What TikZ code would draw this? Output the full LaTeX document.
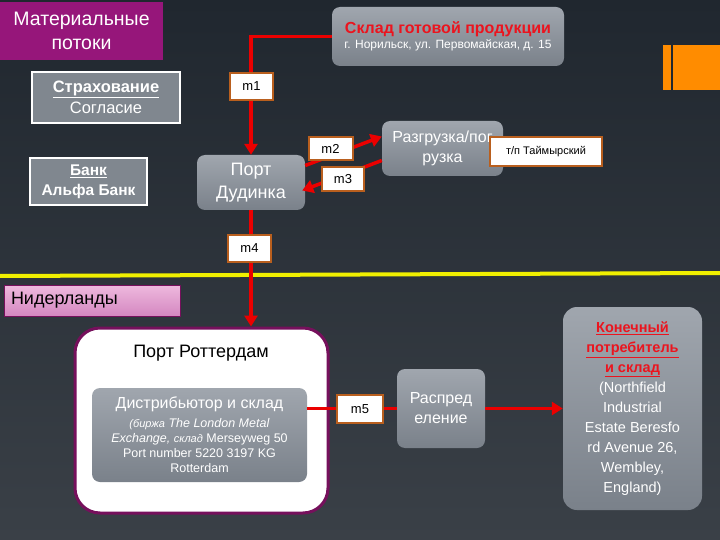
\documentclass[tikz,border=0pt]{standalone}
\usepackage{fontspec}
\setmainfont{Liberation Sans}
\usetikzlibrary{positioning, arrows.meta, calc}
\definecolor{bgtop}{RGB}{32,39,47}
\definecolor{bgbot}{RGB}{58,64,71}
\definecolor{mpurple}{RGB}{150,22,122}
\definecolor{dpurple}{RGB}{118,16,92}
\definecolor{gtop}{RGB}{160,166,174}
\definecolor{gbot}{RGB}{122,129,138}
\definecolor{flatgrey}{RGB}{128,135,143}
\definecolor{lborder}{RGB}{185,95,30}
\definecolor{flowred}{RGB}{235,0,0}
\definecolor{tred}{RGB}{235,20,30}
\definecolor{pinktop}{RGB}{238,185,222}
\definecolor{pinkbot}{RGB}{212,135,192}
\definecolor{dorange}{RGB}{255,140,0}
\definecolor{bline}{RGB}{240,240,0}
\newcommand{\redul}[1]{\textbf{\textcolor{tred}{\underline{#1}}}}

\tikzset{
  greybox/.style={rounded corners=8pt, top color=gtop, bottom color=gbot, text=white},
  flatbox/.style={fill=flatgrey, draw=white, line width=2pt, text=white},
  mlabel/.style={fill=white, draw=lborder, line width=2pt, font=\fontsize{13}{15}\selectfont},
  flow/.style={draw=flowred, line width=3.5pt},
  flowarrow/.style={flow, -{Triangle[length=11pt,width=13pt]}}
}

\begin{document}
\begin{tikzpicture}[x=1pt, y=-1pt, every node/.style={align=center, inner sep=0pt}]
  \useasboundingbox (0,0) rectangle (720,540);
  \fill[top color=bgtop, bottom color=bgbot] (0,0) rectangle (720,540);

  % left column
  \node[fill=mpurple, text=white, minimum width=163pt, minimum height=58pt,
        font=\fontsize{19.5}{24}\selectfont] (flows) at (81.5,31) {Материальные\\потоки};
  \node[flatbox, minimum width=148pt, minimum height=51pt,
        font=\fontsize{16.5}{21}\selectfont] (insur) at (106,97.5) {\textbf{\underline{Страхование}}\\Согласие};
  \node[flatbox, minimum width=117pt, minimum height=47pt,
        font=\fontsize{15.5}{20}\selectfont\bfseries] (bank) at (88.5,181.5) {\underline{Банк}\\Альфа Банк};

  % warehouse and ports
  \node[greybox, minimum width=232pt, minimum height=59pt] (sklad) at (448,36.5)
        {\fontsize{16}{18}\selectfont\textbf{\textcolor{tred}{Склад готовой продукции}}\\[2pt]
         \fontsize{12}{14}\selectfont г. Норильск, ул. Первомайская, д. 15};
  \fill[dorange] (663,45) rectangle (720,90);
  \fill[bgtop] (671,45) rectangle (673,90);

  \node[greybox, minimum width=108pt, minimum height=55pt,
        font=\fontsize{18}{23}\selectfont] (dudinka) at (251,182.5) {Порт\\Дудинка};
  \node[greybox, minimum width=121pt, minimum height=55pt,
        font=\fontsize{16}{20}\selectfont] (razgr) at (442.5,148.5) {Разгрузка/пог\\рузка};

  % border line
  \draw[bline, line width=4pt] (0,276) -- (720,273);
  \node[top color=pinktop, bottom color=pinkbot, draw=dpurple, line width=1pt,
        minimum width=176pt, minimum height=31pt, text width=162pt, align=left,
        font=\fontsize{18}{20}\selectfont] (nl) at (92,300.5) {Нидерланды};

  % Rotterdam
  \node[fill=white, draw=dpurple, line width=3pt, rounded corners=25pt,
        minimum width=253pt, minimum height=185pt] (rotter) at (201.5,420.5) {};
  \node[font=\fontsize{18}{20}\selectfont] (rtitle) at (201,353) {Порт Роттердам};
  \node[greybox, minimum width=215pt, minimum height=94pt,
        font=\fontsize{12.5}{15}\selectfont] (distr) at (199.5,435)
        {{\fontsize{16}{18}\selectfont Дистрибьютор и склад}\\[4pt]
         \textit{\fontsize{11}{15}\selectfont(биржа} \textit{The London Metal}\\
         \textit{Exchange,} \textit{\fontsize{11}{15}\selectfont склад} Merseyweg 50\\
         Port number 5220 3197 KG\\
         Rotterdam};

  \node[greybox, minimum width=88pt, minimum height=79pt,
        font=\fontsize{16}{20}\selectfont] (raspr) at (441,408.5) {Распред\\еление};
  \node[greybox, rounded corners=14pt, minimum width=139pt, minimum height=203pt,
        font=\fontsize{14.5}{20}\selectfont] (consumer) at (632.5,408.5)
        {\redul{Конечный}\\\redul{потребитель}\\\redul{и склад}\\
         (Northfield\\Industrial\\Estate Beresfo\\rd Avenue 26,\\Wembley,\\England)};

  % flows
  \draw[flowarrow] (sklad.west) -| (dudinka.north);
  \draw[flowarrow] ([yshift=17pt]dudinka.east) -- ([yshift=12pt]razgr.west);
  \draw[flowarrow] ([yshift=-12pt]razgr.west) -- ([xshift=-3pt,yshift=-8pt]dudinka.east);
  \draw[flowarrow] (dudinka.south) -- (dudinka.south |- rotter.north);
  \draw[flow] (distr.east |- raspr.west) -- (raspr.west);
  \draw[flowarrow] (raspr.east) -- (consumer.west);

  % flow labels
  \node[mlabel, minimum width=43pt, minimum height=27pt] (m1) at (251.5,86.5) {m1};
  \node[mlabel, minimum width=44pt, minimum height=23pt] (m2) at (330.5,149) {m2};
  \node[mlabel, minimum width=42pt, minimum height=24pt] (m3) at (343,179) {m3};
  \node[mlabel, minimum width=43pt, minimum height=27pt] (m4) at (249.5,248.5) {m4};
  \node[mlabel, minimum width=46pt, minimum height=28pt] (m5) at (360,409) {m5};
  \node[mlabel, minimum width=112pt, minimum height=29pt,
        font=\fontsize{11}{13}\selectfont] (tp) at (546,151.5) {т/п Таймырский};
\end{tikzpicture}
\end{document}
